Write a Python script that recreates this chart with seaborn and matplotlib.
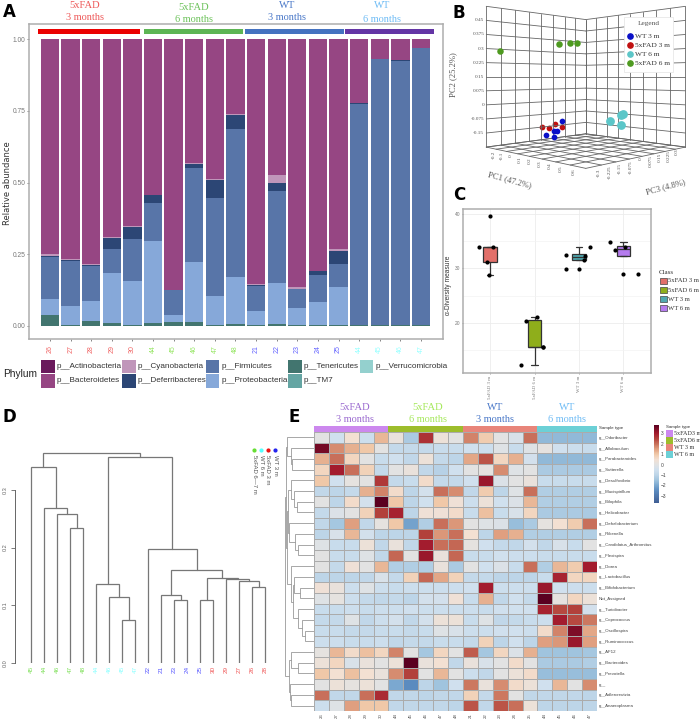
import numpy as np
import pandas as pd
import matplotlib
matplotlib.use("Agg")
import matplotlib.pyplot as plt
from matplotlib.patches import Rectangle
from matplotlib.colors import LinearSegmentedColormap
from mpl_toolkits.mplot3d import proj3d
import seaborn as sns

sns.set_theme(style="white")
plt.rcParams["font.family"] = ["Liberation Sans", "DejaVu Sans"]
SERIF = "Liberation Serif"
W, H = 700, 720
fig = plt.figure(figsize=(W / 100, H / 100), dpi=100, facecolor="white")

# ---------- Panel A data ----------
sample_labels = ["26", "27", "28", "29", "30", "44", "45", "46", "47", "48", "21", "22", "23", "24", "25", "44", "45", "46", "47"]
sample_colors = ["#F06464"] * 5 + ["#96E664"] * 5 + ["#6464FF"] * 5 + ["#96FFFF"] * 4
tenericutes = [.04, .005, .017, .012, .003, .01, .015, .015, .002, .008, .003, .008, .003, .002, .003, .003, .003, .002, .005]
proteobacteria = [.055, .065, .07, .171, .155, .285, .025, .208, .103, .164, .049, .142, .06, .081, .132, 0, 0, 0, 0]
firmicutes = [.145, .158, .123, .085, .145, .133, .085, .327, .34, .513, .086, .32, .065, .095, .08, .772, .927, .923, .963]
deferribacteres = [.005, .002, .003, .039, .042, .027, .001, .013, .063, .05, .004, .03, .002, .012, .048, .001, .001, .001, .001]
cyanobacteria = [.005, .003, .003, .003, .005, .003, .001, .005, .004, .005, .006, .025, .007, .002, .005, .001, .001, .001, .001]
bacteroidetes = [.75, .767, .784, .69, .65, .542, .873, .432, .488, .26, .852, .475, .863, .808, .732, .223, .068, .073, .03]
legend_a = [("p__Actinobacteria", "#6A1A5C"), ("p__Bacteroidetes", "#964683"), ("p__Cyanobacteria", "#C096BA"),
            ("p__Deferribacteres", "#2C4675"), ("p__Firmicutes", "#5875A8"), ("p__Proteobacteria", "#86A8D9"),
            ("p__Tenericutes", "#42756F"), ("p__TM7", "#64A5A3"), ("p__Verrucomicrobia", "#94D0CE")]

# ---------- Panel B data ----------
b_groups = {
    "WT 3 m": ("#0A10C8", 17,
               [.04, .08, .08, .096, .112], [-.12, -.1, -.1, -.096, -.075], [-.161, -.171, -.139, -.138, -.086]),
    "5xFAD 3 m": ("#C01010", 17,
                  [.024, .052, .072, .104], [-.13, -.11, -.09, -.072], [-.116, -.123, -.103, -.118]),
    "WT 6 m": ("#5CC6C8", 40,
               [.357, .384, .396, .4], [.022, .066, .072, .054], [-.075, -.046, -.045, -.096]),
    "5xFAD 6 m": ("#4E9A20", 22,
                  [-.134, .036, .076, .104], [-.262, -.045, -.003, .018], [.284, .327, .335, .335]),
}
pc1_ticks = [-.2, -.1, 0, .1, .2, .3, .4, .5, .6]
pc3_ticks = [-.3, -.225, -.15, -.075, 0, .075, .15, .225, .3]
pc2_ticks = [-.225, -.15, -.075, 0, .075, .15, .225, .3, .375, .45, .525]

# ---------- Panel C data ----------
c_classes = ["5xFAD 3 m", "5xFAD 6 m", "WT 3 m", "WT 6 m"]
c_colors = ["#E2706A", "#8FAE1B", "#4FA8B0", "#B57BEE"]
c_box_summaries = [[28.8, 31.2, 33.9, 33.9, 33.9], [12.2, 15.6, 15.6, 20.5, 21.1],
                   [31.6, 31.6, 32.1, 32.6, 33.9], [32.2, 32.2, 33.6, 34.1, 34.8]]
c_point_x = [0, -.25, .075, -.06, -.02, .81, 1.05, 1.19, 1.19, .69,
             1.70, 1.71, 2.0, 2.25, 2.13, 2.11, 2.70, 2.82, 3.03, 3.0, 3.32]
c_point_y = [39.6, 33.9, 33.9, 31.2, 28.8, 20.4, 21.1, 15.6, 15.5, 12.2,
             32.5, 29.9, 29.9, 33.9, 32.2, 31.6, 34.8, 33.3, 33.9, 28.9, 28.9]

# ---------- Panel D data ----------
d_labels = ["45", "44", "46", "47", "48", "44", "46", "45", "47", "22", "21", "23", "24", "25", "30", "29", "27", "26", "28"]
d_colors = ["#7FE05A"] * 5 + ["#8CFFFF"] * 4 + ["#5A5AFF"] * 5 + ["#F05A5A"] * 5
L = None
d_tree = (.364,
          (.339, L, (.268, L, (.259, L, (.234, L, L)))),
          (.357,
           (.137, L, (.114, L, (.075, L, L))),
           (.197, L,
            (.162,
             (.118, L, (.109, L, L)),
             (.147, (.109, L, L), (.145, L, (.143, L, (.131, L, L))))))))

# ---------- Panel E data ----------
e_genera = ["g__Odoribacter", "g__Allobaculum", "g__Parabacteroides", "g__Sutterella", "g__Desulfovibrio",
            "g__Mucispirillum", "g__Bilophila", "g__Helicobacter", "g__Dehalobacterium", "g__Rikenella",
            "g__Candidatus_Arthromitus", "g__Flexispira", "g__Dorea", "g__Lactobacillus", "g__Bifidobacterium",
            "Not_Assigned", "g__Turicibacter", "g__Coprococcus", "g__Oscillospira", "g__Ruminococcus",
            "g__AF12", "g__Bacteroides", "g__Prevotella", "g__", "g__Adlercreutzia", "g__Anaeroplasma"]
e_values = [
    [0, -.5, .5, -.6, 1.2, .2, -1.3, 2.7, .3, 0, 1.8, .9, 0, -.3, 2, -1.7, -1.7, -1.7, -1.7],
    [3.5, 1.7, 1.3, 1, 0, -.8, -.8, -.8, -.7, -.7, -.5, -.6, -.1, -.7, -.1, .1, -.5, -.6, -.7],
    [1.3, 2, .7, 0, -.7, -.5, -.9, .3, -.8, -1, 1.4, 2.3, .7, 1.3, -.4, -1.7, -1.7, -1.7, -1.7],
    [.7, 3, 2, .8, -.8, 0, .2, -.9, -1.1, -.5, 0, .1, 1.7, -.1, 0, -1.3, -1.3, -1.3, -1.3],
    [1, -.5, .1, 0, 2.6, -.8, -.7, .6, -.8, -.8, -.5, 3.1, -.2, 0, .2, -.7, -.7, -.7, -.7],
    [-.9, -1, -.8, 1.3, 1.8, .6, -1, -.4, 2, 1.7, -.9, .9, -1, -.1, 2, -1.2, -1.2, -1.2, -1.2],
    [0, -1, .6, -.4, 3.8, 1, -1, -.5, 1, .4, -.6, .3, -.5, -.2, 1.2, -1.2, -1.2, -1.2, -1.2],
    [-.8, -.2, 0, .8, 2.5, 2.9, -1, .4, .4, .6, -.7, 1.1, -.7, -.3, .7, -1.3, -1.3, -1.3, -1.3],
    [-.9, -1.4, 1.5, -.9, .1, 1, -2.1, -1.2, 2, 1.6, 0, -.1, -.2, -1.6, -1.3, .1, .5, .9, 2],
    [-1, -.3, 1.2, -.4, -1, -1, -1, 2.5, 1.6, 2, .5, -1, 1.5, 1.3, -1.2, -1.2, -1.2, -1.2, -1.2],
    [-.1, -.7, -.7, .3, -.9, .2, -.9, 3, 2, 2.1, .1, -.5, -.8, -.9, -.4, -.9, -.3, -.7, 0],
    [0, -.7, -.7, -.1, -.9, 2.1, 0, 3.1, .2, 2.1, -.7, -.7, -.5, -.6, -.6, -.7, -.7, -.7, -.7],
    [0, -.8, .4, 0, 1.2, -1.2, -1.2, -1.2, .2, -1.3, 0, -.5, -.2, -.7, 2, -1.2, 1.2, .9, 3],
    [-1, -1, -1, -.9, -.3, -.8, .8, 2.1, 1.4, .8, -.8, -.8, -1, -1, -1, -.7, 2.9, .7, .7],
    [.4, .2, -.6, -.1, -.6, -.7, -.6, -.6, -.6, -.6, -.5, 3, -.6, -.6, -.6, 3.1, -.5, -.6, -.6],
    [-.1, .1, -.6, -.8, -.9, -.8, -1, -.4, -.4, .4, -.7, 1.3, -.9, -.5, -.8, 3.9, .1, .7, .3],
    [-.7, -.7, -.6, -.7, -.6, -.6, -.5, -.6, -.6, -.6, -.6, -.7, -.5, -.5, -.5, 2.9, 2.4, 2.5, -.4],
    [-.8, -.8, -.1, -.9, -.6, -.4, -.9, -.4, .3, .3, -.7, -.1, -.9, -.8, -.7, -.6, 3, 2.4, 1.9],
    [-.7, -.7, -.8, -.8, -.7, -.7, -.8, -.7, -.1, -.3, -.6, -.6, -.5, -.5, -.6, .6, 1.8, 3.4, 1.4],
    [-.6, -.6, -.7, -.7, -.6, -.9, -.8, -.8, -.7, -.7, -.8, .8, -1, -.5, -1, 1.5, 1.6, 3.1, 1.5],
    [.1, 1.2, .6, 1.1, .7, 1.8, 0, -1.4, .7, 0, 2.2, -1.4, .7, -.2, 1.3, -1.5, -1.5, -1.5, -1.4],
    [.3, .7, -.3, .2, 0, .3, 3.9, .2, .5, -.9, .2, -.3, 0, .6, 0, -1.3, -1.3, -1.3, -1.2],
    [1, .5, 1.1, .5, .2, 1.7, 2.5, 0, 1.2, 0, -.6, -.9, 0, .3, .6, -1.6, -1.6, -1.6, -1.6],
    [0, .3, .1, .3, 0, -2, -2.5, -1, -1.5, -.5, 1.9, .2, 1.7, .6, .3, -.5, 1.2, 0, 1.7],
    [2, -.9, -.9, 2, 2.8, -.9, -.9, -1, -.9, -.9, .8, -.8, 1.9, 0, -.9, -.9, -.9, -.9, -1],
    [-.6, -.1, 1.5, 1, 1, -.9, -.9, -.9, -.9, -1, 2.3, -.9, 2.3, 2, .3, -1, -1, -1, -1],
]
e_tree = (86,
          (84,
           (82, L, (70, L, (65, L, L))),
           (80,
            (78, (69, L, (59, L, (52, L, L))), (75, L, (57, L, (49, L, L)))),
            (69, L, (62, (59, L, (42, L, L)), (47, L, (37, L, (27, L, L))))))),
          (76, (69, L, (49, L, L)), (72, L, (69, L, L))))
e_strip = ["#CC88EE"] * 5 + ["#9DBD2C"] * 5 + ["#E8857A"] * 5 + ["#6CD0D6"] * 4


# ---------- helpers ----------
def px_axes(x0, y0, x1, y1, **kw):
    return fig.add_axes([x0 / W, 1 - y1 / H, (x1 - x0) / W, (y1 - y0) / H], **kw)


def ftext(x, y, s, **kw):
    kw.setdefault("va", "center")
    kw.setdefault("zorder", 6)
    return fig.text(x / W, 1 - y / H, s, **kw)


def frect(x0, y0, x1, y1, color, ec="none", lw=0, z=5):
    fig.add_artist(Rectangle((x0 / W, 1 - y1 / H), (x1 - x0) / W, (y1 - y0) / H, transform=fig.transFigure,
                             facecolor=color, edgecolor=ec, linewidth=lw, zorder=z))


def grp_title(x, y1, y2, a, b, c):
    ftext(x, y1, a, family=SERIF, fontsize=7.6, color=c, ha="center")
    ftext(x, y2, b, family=SERIF, fontsize=7.4, color=c, ha="center")


def draw_tree(ax, node, counter, vertical=True, color="#777777", lw=.9):
    if node is None:
        counter[0] += 1
        return counter[0] - 1 + counter[1], 0.0
    h, a, b = node
    pa, ha = draw_tree(ax, a, counter, vertical, color, lw)
    pb, hb = draw_tree(ax, b, counter, vertical, color, lw)
    u, v = [pa, pa, pb, pb], [ha, h, h, hb]
    if vertical:
        ax.plot(u, v, color=color, lw=lw, solid_joinstyle="miter")
    else:
        ax.plot(v, u, color=color, lw=lw, solid_joinstyle="miter")
    return (pa + pb) / 2, h


for (x, y, s) in [(3, 12, "A"), (453, 13, "B"), (453, 195, "C"), (3, 417, "D"), (288, 417, "E")]:
    ftext(x, y, s, fontsize=12, fontweight="bold", color="black", family="DejaVu Sans")

# ---------- Panel A ----------
axA = px_axes(29, 24, 443, 339)
frame_a = pd.DataFrame(dict(pos=np.arange(19), ten=tenericutes, pro=proteobacteria, fir=firmicutes,
                            dfr=deferribacteres, cya=cyanobacteria, bac=bacteroidetes))
bottom = np.zeros(19)
for col, colr in [("ten", "#42756F"), ("pro", "#86A8D9"), ("fir", "#5875A8"),
                  ("dfr", "#2C4675"), ("cya", "#C096BA"), ("bac", "#964683")]:
    sns.barplot(data=frame_a, x="pos", y=col, color=colr, saturation=1, width=.89, bottom=bottom,
                errorbar=None, ax=axA, linewidth=0)
    bottom = bottom + frame_a[col].values
axA.set_xlim(-1.02, 19.07)
axA.set_ylim((326 - 339) / 287, (326 - 24) / 287)
axA.set_yticks([0, .25, .5, .75, 1])
axA.set_yticklabels(["0.00", "0.25", "0.50", "0.75", "1.00"])
axA.set_xticks(range(19))
axA.set_xticklabels(sample_labels, rotation=90)
for t, c in zip(axA.get_xticklabels(), sample_colors):
    t.set_color(c)
axA.tick_params(axis="x", labelsize=5, length=1.5, width=.5, color="#555555", pad=3)
axA.tick_params(axis="y", labelsize=4.8, length=1.5, width=.5, color="#555555", labelcolor="#777777", pad=1)
axA.tick_params(bottom=True, left=True)
axA.set_xlabel("")
axA.set_ylabel("")
for s in axA.spines.values():
    s.set_color("#ADADAD")
    s.set_linewidth(1.1)
ftext(8, 183, "Relative abundance", rotation=90, fontsize=6, color="#333333", ha="center", family="DejaVu Sans")
for x0, x1, c in [(37.5, 140, "#EB0000"), (144, 243, "#5DB554"), (245, 344, "#4472C0"), (345, 434, "#6435A5")]:
    frect(x0, 29.2, x1, 33.6, c)
grp_title(85, 5, 18, "5xFAD", "3 months", "#EE5A5A")
grp_title(194, 7, 20, "5xFAD", "6 months", "#6CC25A")
grp_title(287, 5, 18, "WT", "3 months", "#4A78C8")
grp_title(382, 6, 19, "WT", "6 months", "#6FBCF5")
ftext(3, 374, "Phylum", fontsize=7.3, color="#222222", ha="left")
key_cols = [41, 122, 206, 288, 360]
for i, (lab, c) in enumerate(legend_a):
    cx = key_cols[i // 2]
    ry = 360 + (i % 2) * 14.3
    frect(cx, ry, cx + 13.5, ry + 13.2, c)
    ftext(cx + 16, ry + 6.6, lab, fontsize=5.9, color="#333333", ha="left")

# ---------- Panel B ----------
axB = fig.add_axes([460.5 / W, 1 - 202 / H, 244 / W, 244 / H], projection="3d")
axB.set_proj_type("persp", focal_length=.325)
axB.view_init(elev=0, azim=-45)
axB.set_box_aspect((1, 1, 1), zoom=.97)
axB.set_xlim(-.2, .6, view_margin=0)
axB.set_ylim(-.3, .3, view_margin=0)
axB.set_zlim(-.225, .525, view_margin=0)
axB.set_axis_off()
axB.patch.set_alpha(0)
gc, glw = "#666666", .6
zb, zt = -.225, .525
xa, xb, ya, yb = -.2, .6, -.3, .3
for v in pc1_ticks:
    axB.plot([v, v], [ya, yb], [zb, zb], color=gc, lw=glw)
    axB.plot([v, v], [yb, yb], [zb, zt], color=gc, lw=glw)
for v in pc3_ticks:
    axB.plot([xa, xb], [v, v], [zb, zb], color=gc, lw=glw)
    axB.plot([xa, xa], [v, v], [zb, zt], color=gc, lw=glw)
for v in pc2_ticks:
    axB.plot([xa, xa], [ya, yb], [v, v], color=gc, lw=glw)
    axB.plot([xa, xb], [yb, yb], [v, v], color=gc, lw=glw)
for name, (c, s, xs, ys, zs) in b_groups.items():
    axB.scatter(xs, ys, zs, color=c, s=s, depthshade=False, linewidths=0, zorder=10, alpha=1)
proj_m = axB.get_proj()
for v in pc2_ticks[1:-1]:
    x2, y2, _ = proj3d.proj_transform(xa, ya, v, proj_m)
    axB.annotate(f"{v:g}", xy=(x2, y2), xycoords="data", xytext=(-1.5, 0), textcoords="offset points",
                 fontsize=3.8, ha="right", va="center", family=SERIF, color="#555555", annotation_clip=False)
pc1_label_x = [160, 186, 212, 240, 268, 298, 330, 363, 400]
pc1_label_top = [452, 456, 463, 468, 473, 480, 488, 497, 505]
pc3_label_x = [475, 508, 540, 573, 603, 632, 660, 686, 710]
pc3_label_top = [505, 495, 488, 480, 473, 466, 458, 451, 445]
for v, zx, zy in zip(pc1_ticks, pc1_label_x, pc1_label_top):
    ftext(440 + zx / 3, zy / 3, f"{v:g}", fontsize=3.8, rotation=90, ha="center", va="top", family=SERIF, color="#555555")
for v, zx, zy in zip(pc3_ticks, pc3_label_x, pc3_label_top):
    ftext(440 + zx / 3, zy / 3, f"{v:g}", fontsize=3.8, rotation=90, ha="center", va="top", family=SERIF, color="#555555")
ftext(453, 75, "PC2 (25.2%)", rotation=90, fontsize=6.2, family=SERIF, color="#555555", ha="center")
ftext(510, 180, "PC1 (47.2%)", rotation=-15, fontsize=6.2, family=SERIF, color="#555555", ha="center")
ftext(666, 187, "PC3 (4.8%)", rotation=15, fontsize=6.2, family=SERIF, color="#555555", ha="center")
frect(624, 17, 673, 72, "white", ec="#E8E8E8", lw=.6)
ftext(649, 24, "Legend", fontsize=5.3, family=SERIF, color="#555555", ha="center")
for k, name in enumerate(["WT 3 m", "5xFAD 3 m", "WT 6 m", "5xFAD 6 m"]):
    yy = 36 + k * 9.1
    fig.add_artist(plt.Line2D([630 / W], [1 - yy / H], marker="o", ms=3.8, color=b_groups[name][0],
                              transform=fig.transFigure, zorder=6, lw=0))
    ftext(635, yy, name, fontsize=5.3, family=SERIF, color="#333333", ha="left")

# ---------- Panel C ----------
axC = px_axes(463, 209, 651, 373)
long_c = pd.DataFrame([(i, v) for i, vals in enumerate(c_box_summaries) for v in vals], columns=["pos", "val"])
sns.boxplot(data=long_c, x="pos", y="val", hue="pos", palette=dict(enumerate(c_colors)), native_scale=True,
            width=.3, saturation=1, linecolor="#333333", linewidth=.9, fliersize=0, legend=False, ax=axC)
sns.scatterplot(x=c_point_x, y=c_point_y, color="black", s=9, linewidth=0, ax=axC, zorder=5, legend=False)
axC.set_xlim(-.61, 3.62)
axC.set_ylim(10.8, 40.9)
axC.set_xticks(range(4))
axC.set_xticklabels(c_classes, rotation=90, family=SERIF)
axC.set_yticks([20, 30, 40])
axC.set_yticks([15, 25, 35], minor=True)
axC.grid(True, which="major", color="#ECECEC", lw=.6)
axC.grid(True, which="minor", axis="y", color="#F3F3F3", lw=.5)
axC.set_axisbelow(True)
axC.tick_params(axis="both", which="major", labelsize=3.5, labelcolor="#777777", length=1, width=.4, color="#555555", pad=1, bottom=True, left=True)
axC.tick_params(axis="both", which="minor", length=0)
axC.set_xlabel("")
axC.set_ylabel("")
for s in axC.spines.values():
    s.set_color("#ADADAD")
    s.set_linewidth(1.1)
ftext(449, 285, "α-Diversity measure", rotation=90, fontsize=4.8, color="#333333", ha="center")
ftext(659, 272, "Class", fontsize=5, family=SERIF, color="#333333", ha="left")
for k, (lab, c) in enumerate(zip(c_classes, c_colors)):
    yy = 281 + k * 9
    frect(660, yy - 3, 667, yy + 3, c, ec="#444444", lw=.5)
    ftext(668.5, yy, lab, fontsize=4.8, family=SERIF, color="#333333", ha="left")

# ---------- Panel D ----------
axD = px_axes(15, 440, 285, 663)
draw_tree(axD, d_tree, [0, 0])
axD.set_xlim((15 - 31.3) / 13, (285 - 31.3) / 13)
axD.set_ylim(0, (663 - 440) / 576.7)
axD.set_yticks([0, .1, .2, .3])
axD.set_yticklabels(["0.0", "0.1", "0.2", "0.3"], rotation=90, va="center")
axD.set_xticks(range(19))
axD.set_xticklabels(d_labels, rotation=90)
for t, c in zip(axD.get_xticklabels(), d_colors):
    t.set_color(c)
axD.tick_params(axis="x", labelsize=4.6, length=0, pad=2)
axD.tick_params(axis="y", labelsize=4, length=3, width=.6, color="#666666", labelcolor="#666666", pad=2, left=True)
sns.despine(ax=axD, top=True, right=True, bottom=True)
axD.spines["left"].set_bounds(0, .3)
axD.spines["left"].set_color("#666666")
axD.spines["left"].set_linewidth(.7)
axD.patch.set_alpha(0)
for xx, c in zip([254, 261, 268, 275], ["#66DD33", "#55FFFF", "#EE1111", "#2222EE"]):
    fig.add_artist(plt.Line2D([xx / W], [1 - 450 / H], marker="o", ms=2, color=c, transform=fig.transFigure, lw=0, zorder=6))
for xx, s in zip([254, 261, 268, 275], ["5xFAD 6—7 m", "WT 6 m", "5xFAD 3 m", "WT 3 m"]):
    ftext(xx, 455, s, rotation=270, fontsize=4.3, color="#555555", ha="center", va="top")

# ---------- Panel E ----------
stops = [(-3.7, "#3F5E94"), (-2.5, "#5C8CC0"), (-2, "#7BA8D0"), (-1.5, "#A0C4DE"), (-1, "#BDD5E8"), (-.5, "#D0E0EE"),
         (0, "#E2E2E2"), (.5, "#F3E0D2"), (1, "#F0C8A8"), (1.5, "#E0A080"), (2, "#C8705A"), (2.5, "#B2413B"),
         (3, "#A41C2E"), (3.8, "#5A0020")]
vmin, vmax = stops[0][0], stops[-1][0]
cmap = LinearSegmentedColormap.from_list("heat", [((v - vmin) / (vmax - vmin), c) for v, c in stops])
axE = px_axes(314, 432, 597, 711)
cax = px_axes(654, 425, 658.5, 503)
sns.heatmap(pd.DataFrame(e_values, index=e_genera, columns=sample_labels), cmap=cmap, vmin=vmin, vmax=vmax,
            linewidths=.45, linecolor="#ABABAB", ax=axE, cbar_ax=cax, xticklabels=sample_labels, yticklabels=e_genera)
axE.yaxis.tick_right()
axE.set_yticklabels(e_genera, rotation=0, fontsize=3.2, color="#444444")
axE.set_xticklabels(sample_labels, rotation=90, fontsize=3.2, color="#555555")
axE.tick_params(length=0, pad=1.5)
cax.set_yticks([-3, -2, -1, 0, 1, 2, 3])
cax.set_yticklabels(["−3", "−2", "−1", "0", "1", "2", "3"])
cax.tick_params(labelsize=3.5, length=0, pad=1.5, labelcolor="#444444", right=False)
axStrip = px_axes(314, 426, 597, 431.5)
axStrip.set_axis_off()
for j, c in enumerate(e_strip):
    axStrip.add_patch(Rectangle((j, 0), 1, 1, facecolor=c, edgecolor="none"))
axStrip.set_xlim(0, 19)
axStrip.set_ylim(0, 1)
axTree = px_axes(284, 432, 314, 711)
draw_tree(axTree, e_tree, [0, .5], vertical=False, color="#999999", lw=.6)
axTree.set_xlim(90, 0)
axTree.set_ylim(26, 0)
axTree.set_axis_off()
ftext(599, 428.5, "Sample type", fontsize=3.2, color="#333333", ha="left")
ftext(666, 427, "Sample type", fontsize=3.2, color="#333333", ha="left")
for k, (lab, c) in enumerate(zip(["5xFAD3 m", "5xFAD6 m", "WT 3 m", "WT 6 m"], ["#CC88EE", "#9DBD2C", "#E8857A", "#6CD0D6"])):
    yy = 430 + k * 7
    frect(666, yy, 672.5, yy + 6.6, c)
    ftext(673.5, yy + 3.3, lab, fontsize=4.4, family=SERIF, color="#333333", ha="left")
grp_title(355, 407, 419, "5xFAD", "3 months", "#9B6BD0")
grp_title(428, 407, 419, "5xFAD", "6 months", "#A5E85A")
grp_title(495, 408, 420, "WT", "3 months", "#4A78C8")
grp_title(567, 407, 420, "WT", "6 months", "#6FBCF5")

fig.savefig("out.png", dpi=100)
